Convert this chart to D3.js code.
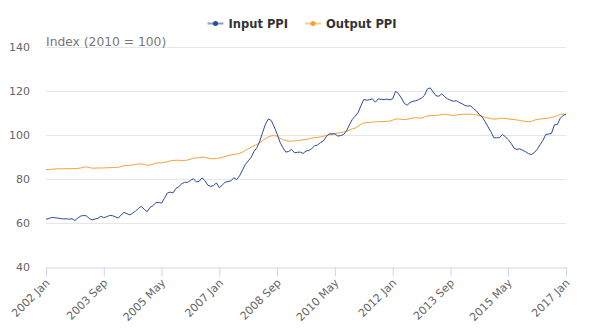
<!DOCTYPE html>
<html><head><meta charset="utf-8">
<script src="https://cdn.jsdelivr.net/npm/d3@7"></script>
<style>
html,body{margin:0;padding:0;background:#fff;}
svg{display:block;font-family:"DejaVu Sans",sans-serif;}
</style></head>
<body><svg id="c" width="600" height="336"></svg>
<script>
const startYear = 2002, startMonth = 0; // 2002 Jan
const inputPPI = [
61.5,61.8,62.3,62.2,62.0,61.8,61.6,61.7,61.5,61.7,60.9,62.0,
62.9,63.2,63.0,61.8,61.2,61.6,61.9,62.9,62.2,62.6,63.2,63.1,
62.6,62.0,63.4,64.6,64.0,63.5,64.2,65.2,66.4,67.4,66.0,64.9,
66.8,67.6,69.0,69.1,68.8,71.0,73.4,73.8,73.5,75.5,76.3,77.6,
78.3,78.2,79.1,79.9,78.5,78.7,80.3,79.0,77.0,76.4,76.8,78.0,
75.8,77.0,78.3,78.6,78.9,80.3,79.5,81.2,83.8,86.4,88.0,89.6,
92.3,94.0,97.0,101.0,104.8,107.1,106.3,103.5,100.2,96.5,94.0,92.0,
92.3,93.2,91.7,91.9,92.0,91.4,92.5,92.8,93.6,94.9,95.2,96.3,
97.0,99.0,100.3,100.3,100.3,99.3,99.5,100.0,101.6,104.3,106.8,108.3,
109.9,113.0,115.9,115.6,115.8,116.2,114.7,116.2,116.0,115.9,116.1,115.8,
116.2,119.6,118.6,116.6,114.2,113.3,114.5,115.1,115.3,115.9,116.5,117.8,
120.6,121.2,119.3,117.6,117.4,118.5,117.2,116.2,115.6,115.1,115.4,114.6,
114.0,113.2,112.9,113.0,111.8,110.7,109.0,108.0,105.8,103.5,101.3,98.5,
98.5,98.6,100.0,99.0,97.6,96.0,93.8,93.2,93.5,92.8,92.2,91.3,
90.9,91.7,93.2,95.3,97.3,100.0,100.2,100.6,104.4,104.5,107.4,108.6,
109.3];
const outputPPI = [
84.1,84.0,84.2,84.3,84.4,84.4,84.4,84.5,84.4,84.5,84.5,84.6,
84.8,85.1,85.3,85.0,84.7,84.7,84.8,84.8,84.8,84.9,84.9,85.0,
85.0,85.1,85.4,85.8,86.0,86.0,86.2,86.4,86.6,86.6,86.4,86.1,
86.1,86.5,87.0,87.1,87.1,87.4,87.6,88.0,88.2,88.3,88.3,88.2,
88.2,88.4,88.8,89.2,89.4,89.5,89.7,89.6,89.3,89.0,89.0,89.1,
89.3,89.6,90.0,90.4,90.7,90.9,91.1,91.4,92.0,92.8,93.5,94.2,
94.9,95.4,96.3,97.3,98.2,98.9,99.4,99.5,99.2,98.3,97.6,97.3,
97.0,97.0,97.1,97.2,97.4,97.6,97.7,98.0,98.4,98.6,98.7,98.9,
99.2,99.5,99.8,100.0,100.4,100.7,100.9,101.1,101.4,102.0,102.5,102.9,
103.8,104.6,105.2,105.4,105.5,105.6,105.8,105.8,105.9,105.9,106.0,106.1,
106.5,107.0,107.1,106.9,106.8,106.9,107.2,107.5,107.6,107.5,107.5,107.9,
108.4,108.6,108.6,108.7,108.8,109.0,109.2,109.0,108.8,108.6,108.8,109.0,
109.2,109.2,109.2,109.2,109.1,108.9,108.6,108.3,107.8,107.5,107.2,107.0,
107.1,107.3,107.4,107.3,107.1,106.9,106.8,106.6,106.4,106.1,106.0,105.8,
105.9,106.5,106.8,107.0,107.2,107.3,107.5,107.8,108.0,108.6,109.1,109.4,
108.8];
const xTickLabels = ["2002 Jan","2003 Sep","2005 May","2007 Jan","2008 Sep","2010 May","2012 Jan","2013 Sep","2015 May","2017 Jan"];
const yTicks = [40,60,80,100,120,140];
const seriesNames = ["Input PPI","Output PPI"];
const seriesColors = ["#2b4a9c","#f7a035"];
const axisTitle = "Index (2010 = 100)";

const monthNames = ["Jan","Feb","Mar","Apr","May","Jun","Jul","Aug","Sep","Oct","Nov","Dec"];
const categories = inputPPI.map((d,i)=>{
  const m = startMonth + i;
  return (startYear + Math.floor(m/12)) + " " + monthNames[m%12];
});

const svg = d3.select("#c");
const L = 46, R = 566, T = 46.5, B = 266.5;
const x = d3.scaleLinear().domain([0, categories.length-1]).range([L, R]);
const y = d3.scaleLinear().domain([40,140]).range([B, T]);

// gridlines
svg.append("g").selectAll("line").data(yTicks.filter(t=>t>40)).join("line")
  .attr("x1",L).attr("x2",R)
  .attr("y1",d=>Math.round(y(d))+0.5).attr("y2",d=>Math.round(y(d))+0.5)
  .attr("stroke","#e6e6e6").attr("stroke-width",1);

// y labels
svg.append("g").selectAll("text").data(yTicks).join("text")
  .attr("x",30).attr("y",d=>y(d)+4)
  .attr("text-anchor","end").attr("font-size","11px").attr("fill","#666")
  .text(d=>d);

// axis title
svg.append("text").attr("x",46).attr("y",45.5)
  .attr("font-size","12.3px").attr("fill","#777").text(axisTitle);

// x axis
const tickIdx = xTickLabels.map(l=>categories.indexOf(l));
const xAxis = d3.axisBottom(x).tickValues(tickIdx).tickSize(9)
  .tickFormat(i=>categories[i]);
const gx = svg.append("g").attr("transform",`translate(0,${Math.round(B)+0.5})`).call(xAxis);
gx.select(".domain").attr("stroke","#ccd6eb");
gx.selectAll(".tick line").attr("stroke","#ccd6eb");
gx.selectAll(".tick text")
  .attr("font-family","DejaVu Sans, sans-serif")
  .attr("font-size","11px").attr("fill","#666")
  .attr("text-anchor","end")
  .attr("dy",null).attr("y",0)
  .attr("transform","translate(4,16) rotate(-45)");

// lines
const line = d3.line().x((d,i)=>x(i)).y(d=>y(d));
[outputPPI, inputPPI].forEach((s,k)=>{
  const idx = k===0 ? 1 : 0;
  svg.append("path").datum(s).attr("d",line)
    .attr("fill","none").attr("stroke",seriesColors[idx]).attr("stroke-width",1)
    .attr("stroke-linejoin","round");
});

// legend
const legX = [207.5, 305];
seriesNames.forEach((n,i)=>{
  const g = svg.append("g").attr("transform",`translate(${legX[i]},23.5)`);
  g.append("line").attr("x1",0).attr("x2",16).attr("y1",0).attr("y2",0)
    .attr("stroke",seriesColors[i]).attr("stroke-width",2).attr("opacity",0.55);
  g.append("circle").attr("cx",8).attr("cy",0).attr("r",2.5).attr("fill",seriesColors[i]);
  g.append("text").attr("x",21).attr("y",4.3).attr("font-size","11.5px")
    .attr("font-weight","bold").attr("fill","#333").text(n);
});
</script></body></html>
